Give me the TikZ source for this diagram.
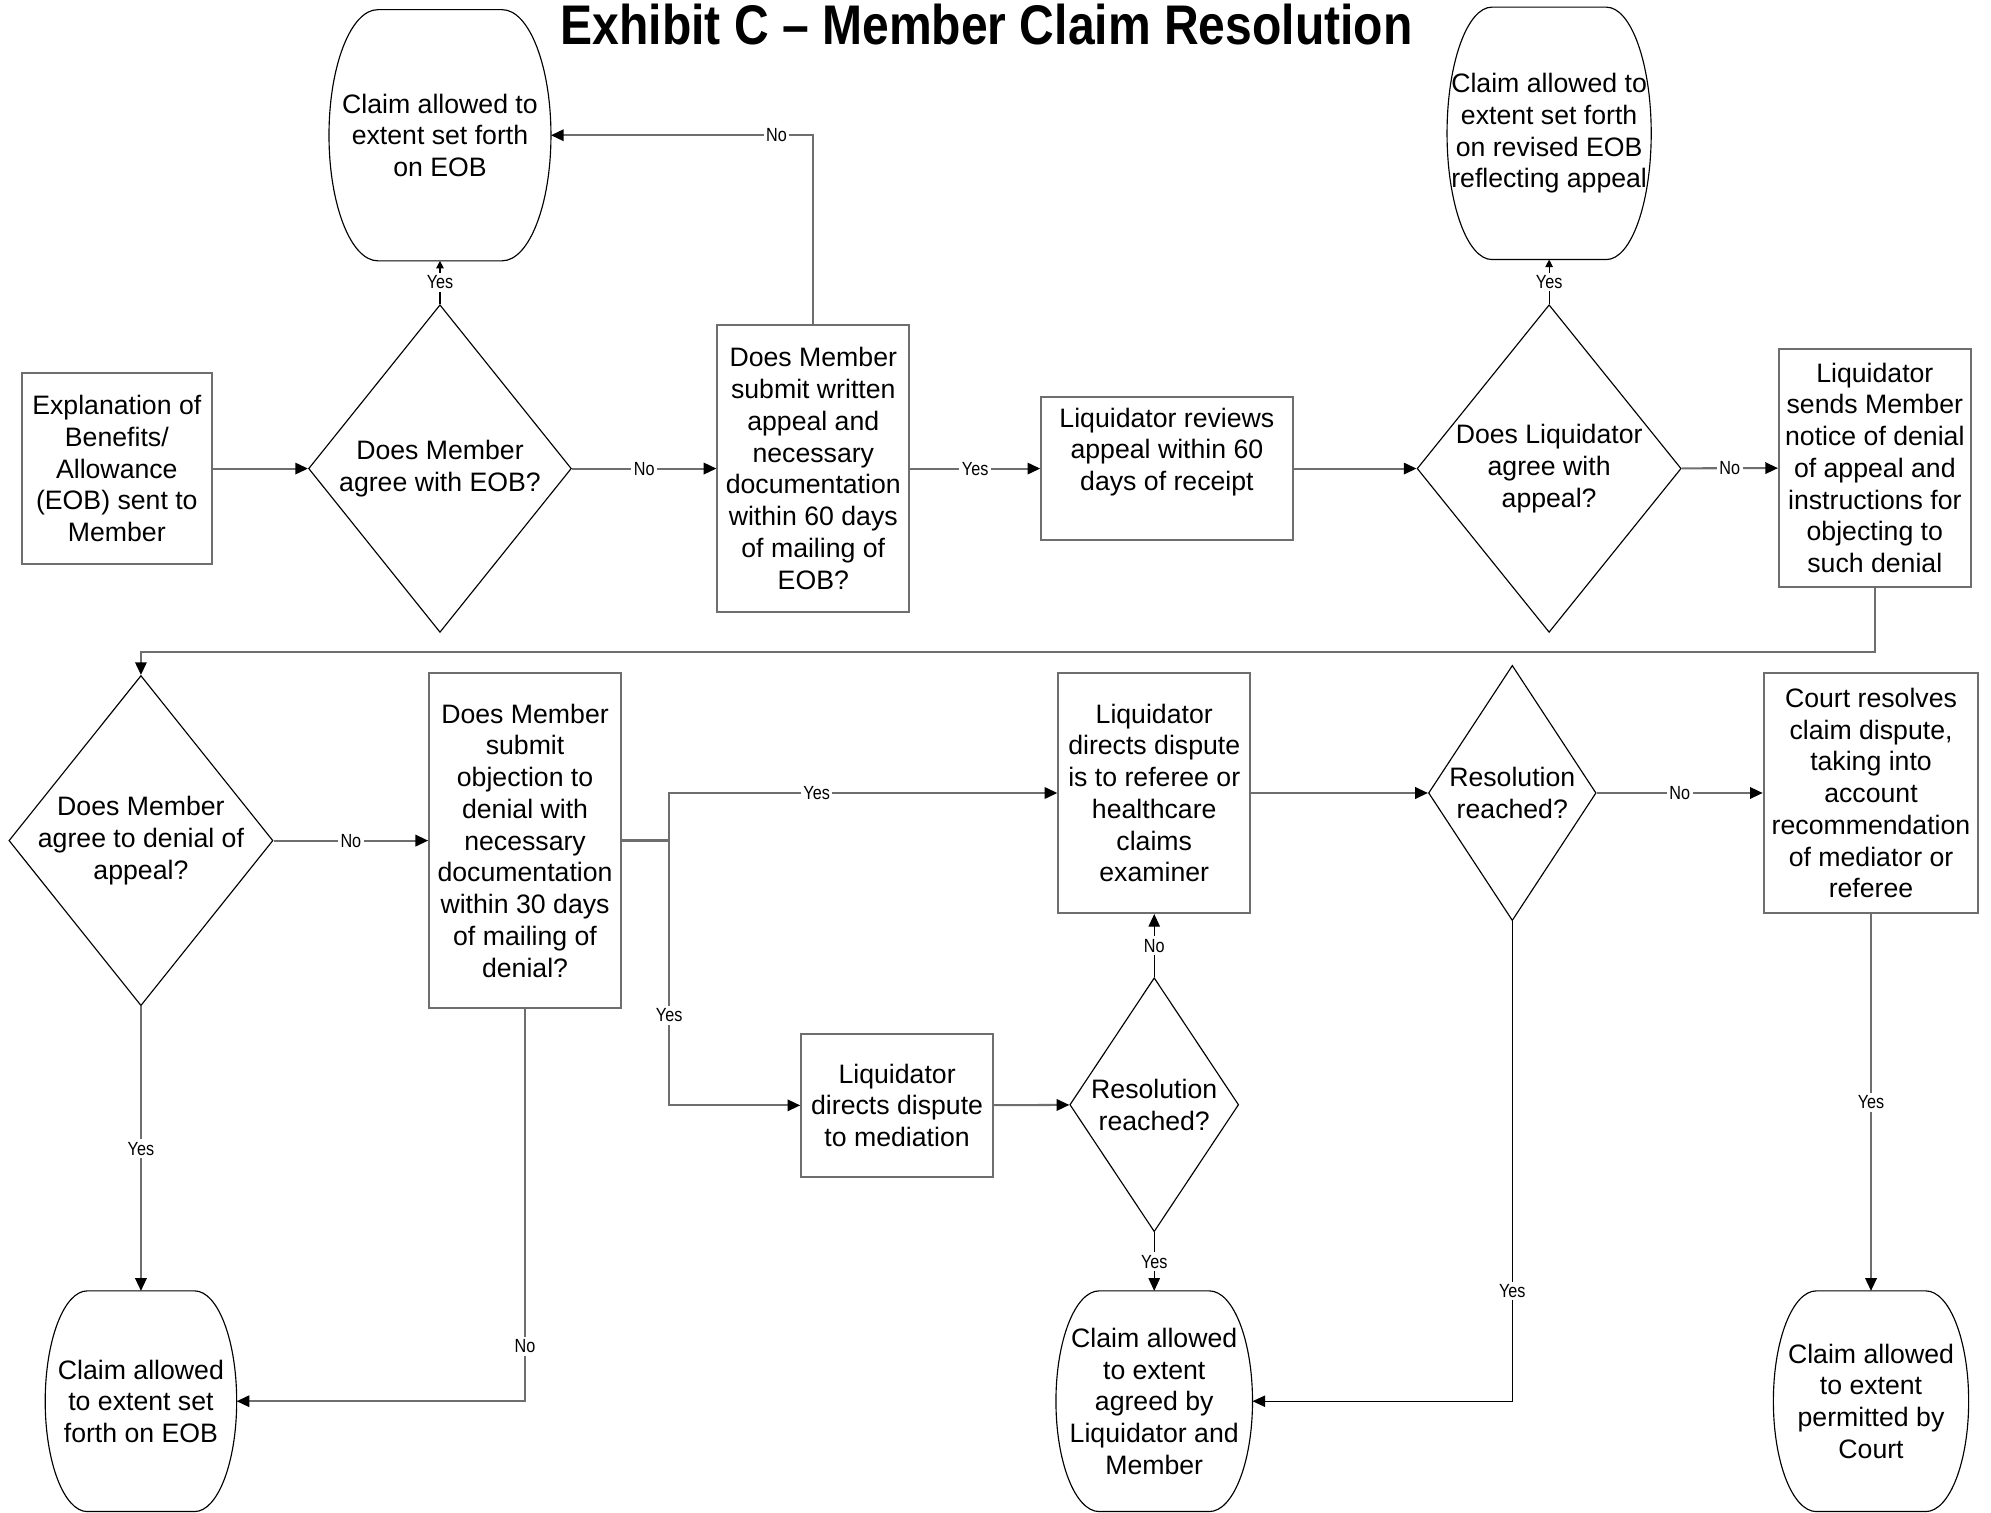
\documentclass[tikz,border=0pt]{standalone}
\usepackage{fontspec}
\setmainfont{Liberation Sans}
\newfontfamily\narrowfont{Liberation Sans}[FakeStretch=0.85]
\newfontfamily\titlefont{Liberation Sans}[FakeStretch=0.86]
\usetikzlibrary{shapes.geometric,arrows.meta,calc}
\newcommand\pxu{0.5pt}
\definecolor{linegray}{RGB}{110,110,110}
\newcommand\termout[1]{%
  \draw[black, line width=0.45pt] let \p1=(#1.north west), \p2=(#1.south east),
     \n1={0.5*(\y1-\y2)}, \n2={0.22*(\x2-\x1)} in
     (\x1+\n2,\y1) -- (\x2-\n2,\y1)
     arc[start angle=90, end angle=-90, x radius=\n2, y radius=\n1]
     -- (\x1+\n2,\y2)
     arc[start angle=270, end angle=90, x radius=\n2, y radius=\n1] -- cycle;}
\begin{document}
\begin{tikzpicture}[x=0.5pt,y=-0.5pt,
  every node/.style={inner sep=0pt, align=center, font=\fontsize{10.5}{12.5}\selectfont},
  boxn/.style={rectangle, draw=linegray, line width=0.8pt},
  dia/.style={diamond, draw=black, line width=0.45pt},
  term/.style={rectangle, draw=none},
  conn/.style={draw=linegray, line width=0.8pt},
  dline/.style={draw=black, line width=0.45pt},
  arr/.style={-{Triangle[length=5pt,width=4.5pt,color=black]}},
  sarr/.style={-{Triangle[length=3pt,width=3pt,color=black]}},
  lab/.style={fill=white, inner sep=1pt, font=\narrowfont\fontsize{7.5}{8}\selectfont},
]
\useasboundingbox (0,0) rectangle (1568,1191);

\node[font=\titlefont\bfseries\fontsize{22}{26}\selectfont, anchor=base] (title) at (777,35) {Exhibit C – Member Claim Resolution};

% top row
\node[boxn, minimum width=150*\pxu, minimum height=150*\pxu] (A) at (92,369) {Explanation of\\Benefits/\\Allowance\\(EOB) sent to\\Member};
\node[dia, minimum width=207*\pxu, minimum height=258*\pxu, label={center:Does Member\\agree with EOB?}] (D1) at (346.5,369) {};
\node[term, minimum width=174*\pxu, minimum height=197*\pxu] (T1) at (346.5,106.5) {Claim allowed to\\extent set forth\\on EOB};
\node[boxn, minimum width=151*\pxu, minimum height=226*\pxu] (B) at (640.5,369) {Does Member\\submit written\\appeal and\\necessary\\documentation\\within 60 days\\of mailing of\\EOB?};
\node[boxn, minimum width=198*\pxu, minimum height=112*\pxu, label={[yshift=6.5pt]center:Liquidator reviews\\appeal within 60\\days of receipt}] (C) at (919,369) {};
\node[dia, minimum width=208*\pxu, minimum height=258*\pxu, label={center:Does Liquidator\\agree with\\appeal?}] (D2) at (1220,369) {};
\node[term, minimum width=160*\pxu, minimum height=198*\pxu] (T2) at (1220,105) {Claim allowed to\\extent set forth\\on revised EOB\\reflecting appeal};
\node[boxn, minimum width=151*\pxu, minimum height=187*\pxu] (E) at (1476.5,368.5) {Liquidator\\sends Member\\notice of denial\\of appeal and\\instructions for\\objecting to\\such denial};

% middle row
\node[dia, minimum width=208*\pxu, minimum height=260*\pxu, label={center:Does Member\\agree to denial of\\appeal?}] (D3) at (111,662) {};
\node[boxn, minimum width=151*\pxu, minimum height=264*\pxu] (F) at (413.5,662) {Does Member\\submit\\objection to\\denial with\\necessary\\documentation\\within 30 days\\of mailing of\\denial?};
\node[boxn, minimum width=151*\pxu, minimum height=189*\pxu] (G) at (909,624.5) {Liquidator\\directs dispute\\is to referee or\\healthcare\\claims\\examiner};
\node[boxn, minimum width=151*\pxu, minimum height=113*\pxu] (H) at (706.5,870.5) {Liquidator\\directs dispute\\to mediation};
\node[dia, minimum width=133*\pxu, minimum height=200*\pxu, label={center:Resolution\\reached?}] (D4) at (909,870) {};
\node[dia, minimum width=132*\pxu, minimum height=201*\pxu, label={center:Resolution\\reached?}] (D5) at (1191,624.5) {};
\node[boxn, minimum width=169*\pxu, minimum height=189*\pxu] (I) at (1473.5,624.5) {Court resolves\\claim dispute,\\taking into\\account\\recommendation\\of mediator or\\referee};

% bottom row
\node[term, minimum width=150*\pxu, minimum height=173*\pxu] (T3) at (111,1103.5) {Claim allowed\\to extent set\\forth on EOB};
\node[term, minimum width=154*\pxu, minimum height=173*\pxu] (T4) at (909,1103.5) {Claim allowed\\to extent\\agreed by\\Liquidator and\\Member};
\node[term, minimum width=153*\pxu, minimum height=173*\pxu] (T5) at (1473.5,1103.5) {Claim allowed\\to extent\\permitted by\\Court};

\termout{T1}\termout{T2}\termout{T3}\termout{T4}\termout{T5}

% connectors
\draw[conn, arr] (A) -- (D1);
\draw[dline, sarr] (D1.north) -- node[lab]{Yes} (T1.south);
\draw[conn, arr] (D1) -- node[lab]{No} (B);
\draw[conn, arr] (B.north) |- node[lab, pos=0.57]{No} (T1.east);
\draw[conn, arr] (B) -- node[lab]{Yes} (C);
\draw[conn, arr] (C) -- (D2);
\draw[dline, sarr] (D2.north) -- node[lab]{Yes} (T2.south);
\draw[conn, arr] (D2) -- node[lab]{No} (E);
\draw[conn, arr] (E.south) -- ++(0,51) -| (D3.north);
\draw[conn, arr] (D3) -- node[lab]{No} (F);
\draw[conn, arr] (D3) -- node[lab]{Yes} (T3);
\draw[conn, arr] (F.south) |- node[lab, pos=0.43]{No} (T3.east);
\coordinate (jf) at (527,662);
\draw[conn, line width=1.1pt] (F.east) -- (jf);
\draw[conn, arr] (jf) |- node[lab, pos=0.69]{Yes} (G.west);
\draw[conn, arr] (jf) |- node[lab, pos=0.33]{Yes} (H.west);
\draw[conn, arr] (H) -- (D4);
\draw[dline, arr] (D4) -- node[lab]{No} (G);
\draw[dline, arr] (D4) -- node[lab]{Yes} (T4);
\draw[conn, arr] (G) -- (D5);
\draw[conn, arr] (D5) -- node[lab]{No} (I);
\draw[dline, arr] (D5.south) |- node[lab, pos=0.385]{Yes} (T4.east);
\draw[conn, arr] (I) -- node[lab]{Yes} (T5);
\end{tikzpicture}
\end{document}
